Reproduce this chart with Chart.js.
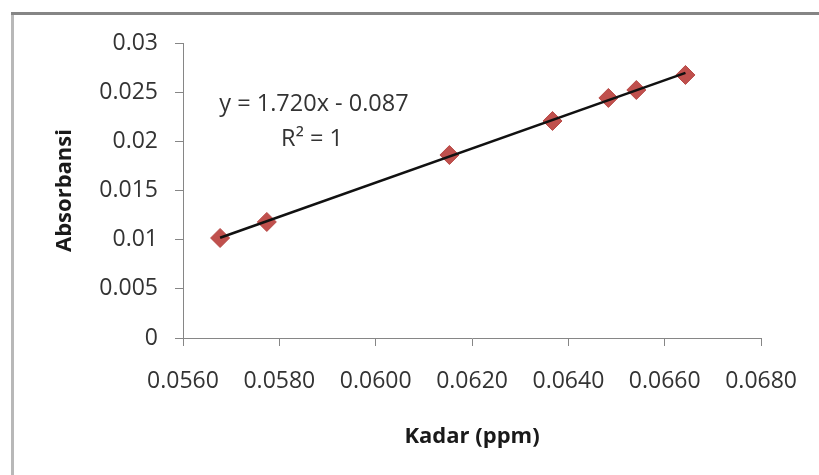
<!DOCTYPE html>
<html>
<head>
<meta charset="utf-8">
<script src="https://cdn.jsdelivr.net/npm/chart.js@4.4.0/dist/chart.umd.min.js"></script>
<style>
  html, body { margin: 0; padding: 0; background: #fff; }
  #wrap { width: 819px; height: 475px; position: relative; }
</style>
</head>
<body>
<div id="wrap"><canvas id="grafico" width="819" height="475"></canvas></div>
<script>
// ===== DADOS =====
const kadar = [0.05677, 0.05774, 0.06153, 0.06367, 0.06483, 0.06541, 0.06643];
const absorbansi = [0.01017, 0.0118, 0.01861, 0.02207, 0.02441, 0.02522, 0.02675];
const xTickLabels = ["0.0560", "0.0580", "0.0600", "0.0620", "0.0640", "0.0660", "0.0680"];
const yTickLabels = ["0", "0.005", "0.01", "0.015", "0.02", "0.025", "0.03"];
const persamaan = ["y = 1.720x - 0.087", "R² = 1"];

// ===== GARIS TREN (regresi linear) =====
const n = kadar.length;
const mx = kadar.reduce((a, b) => a + b, 0) / n;
const my = absorbansi.reduce((a, b) => a + b, 0) / n;
let sxy = 0, sxx = 0;
for (let i = 0; i < n; i++) {
  sxy += (kadar[i] - mx) * (absorbansi[i] - my);
  sxx += (kadar[i] - mx) ** 2;
}
const slope = sxy / sxx;
const intercept = my - slope * mx;
const xMin = Math.min(...kadar), xMax = Math.max(...kadar);
const tren = [
  { x: xMin, y: slope * xMin + intercept },
  { x: xMax, y: slope * xMax + intercept }
];

const FONT = "'Open Sans', 'Noto Sans', sans-serif";

// bingkai abu-abu di kiri dan atas + teks persamaan
const dekorasi = {
  id: "dekorasi",
  beforeDraw(chart) {
    const c = chart.ctx;
    c.save();
    c.fillStyle = "#fff";
    c.fillRect(0, 0, chart.width, chart.height);
    c.strokeStyle = "#b8b8b8";
    c.lineWidth = 3;
    c.beginPath();
    c.moveTo(12.5, chart.height);
    c.lineTo(12.5, 13.5);
    c.stroke();
    c.strokeStyle = "#858585";
    c.beginPath();
    c.moveTo(11, 13.5);
    c.lineTo(chart.width, 13.5);
    c.stroke();
    c.restore();
  },
  afterDatasetsDraw(chart) {
    const c = chart.ctx;
    c.save();
    c.fillStyle = "#333";
    c.font = "23.5px " + FONT;
    c.textAlign = "center";
    c.textBaseline = "middle";
    c.fillText(persamaan[0], 314, 104);
    c.fillText(persamaan[1], 312, 139);
    c.restore();
  }
};

const ctx = document.getElementById("grafico");
new Chart(ctx, {
  type: "scatter",
  data: {
    datasets: [
      {
        type: "line",
        data: tren,
        borderColor: "#111",
        borderWidth: 2.5,
        pointRadius: 0,
        order: 0
      },
      {
        data: kadar.map((x, i) => ({ x: x, y: absorbansi[i] })),
        pointStyle: "rectRot",
        pointRadius: 9.5,
        backgroundColor: "#C0504D",
        borderColor: "#B84A47",
        borderWidth: 1,
        order: 1
      }
    ]
  },
  options: {
    responsive: false,
    animation: false,
    layout: { padding: { top: 43, right: 57, left: 0, bottom: 0 } },
    plugins: { legend: { display: false }, tooltip: { enabled: false } },
    scales: {
      x: {
        type: "linear",
        min: 0.056,
        max: 0.068,
        afterFit(s) { s.height = 137; },
        ticks: {
          stepSize: 0.002,
          padding: 22,
          color: "#333",
          font: { family: FONT, size: 23 },
          callback: (v, i) => xTickLabels[i]
        },
        grid: { drawOnChartArea: false, tickLength: 8, color: "#868686" },
        border: { color: "#868686", width: 1 },
        title: {
          display: true,
          text: "Kadar (ppm)",
          color: "#1a1a1a",
          font: { family: FONT, size: 22, weight: "bold" },
          padding: { bottom: 25 }
        }
      },
      y: {
        type: "linear",
        min: 0,
        max: 0.03,
        afterFit(s) { s.width = 183; },
        ticks: {
          stepSize: 0.005,
          padding: 17,
          color: "#333",
          font: { family: FONT, size: 23 },
          callback: (v, i) => yTickLabels[i]
        },
        grid: { drawOnChartArea: false, tickLength: 8, color: "#868686" },
        border: { color: "#868686", width: 1 },
        title: {
          display: true,
          text: "Absorbansi",
          color: "#1a1a1a",
          font: { family: FONT, size: 22, weight: "bold" },
          padding: { top: 52 }
        }
      }
    }
  },
  plugins: [dekorasi]
});
</script>
</body>
</html>
